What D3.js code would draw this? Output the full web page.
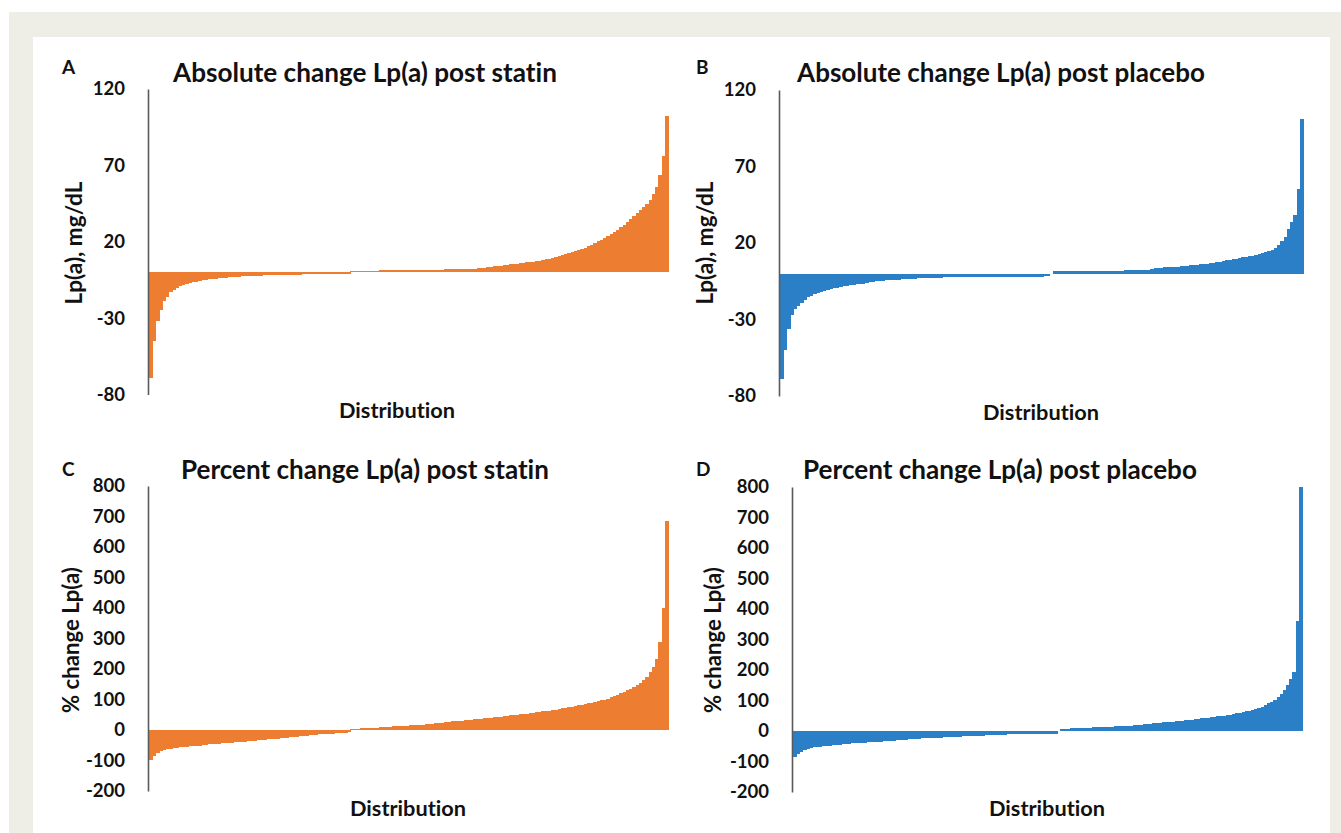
<!DOCTYPE html>
<html><head><meta charset="utf-8">
<script src="https://cdn.jsdelivr.net/npm/d3@7"></script>
<style>
html,body{margin:0;padding:0;background:#fff;}
svg{display:block;}
text{font-family:Lato,"Open Sans",sans-serif;font-weight:700;fill:#111;font-variant-ligatures:none;font-feature-settings:"liga" 0;}
</style></head>
<body>
<svg id="chart" width="1341" height="833"></svg>
<script>
// ---------------- DATA ----------------
const absTicks = [-80, -30, 20, 70, 120];
const pctTicks = [-200, -100, 0, 100, 200, 300, 400, 500, 600, 700, 800];

const titles = [
  "Absolute change Lp(a) post statin",
  "Absolute change Lp(a) post placebo",
  "Percent change Lp(a) post statin",
  "Percent change Lp(a) post placebo"
];
const panelLetters = ["A", "B", "C", "D"];
const yLabels = ["Lp(a), mg/dL", "Lp(a), mg/dL", "% change Lp(a)", "% change Lp(a)"];
const xLabel = "Distribution";

// Sorted individual changes (estimated from the figure)
const absStatin = [
  -69,-45,-32,-25,-19,-16,-13,-11.5,-10,-9,-8.2,-7.5,-7,-6.5,-6.1,-5.7,-5.3,-5,-4.7,-4.4,
  -4.2,-4,-3.8,-3.6,-3.4,-3.2,-3,-2.8,
  -2.5,-2.4,-2.4,-2.3,-2.2,-2.2,-2.1,-2,-2,-1.9,-1.9,-1.8,-1.7,
  -1.7,-1.6,-1.6,-1.5,-1.5,-1.5,-1.4,-1.4,-1.3,-1.3,-1.3,-1.2,-1.2,-1.2,-1.1,-1.1,-1.1,-1,-1,-1,-0.9,
  1,1,1,1.1,1.1,1.1,1.1,1.1,1.1,1.2,1.2,1.2,1.2,1.2,1.2,1.2,1.3,1.3,1.3,1.3,1.4,1.4,1.4,1.4,1.5,1.5,1.5,1.5,1.6,
  2,2,2.1,2.1,2.2,2.2,2.3,2.3,2.4,2.4,2.5,
  2.8,3.1,3.4,3.7,4,4.2,4.4,4.6,
  4.9,5.2,5.4,5.7,6,6.2,6.5,6.7,7,7.2,
  7.6,8,8.4,8.9,9.4,
  10,10.6,11.2,11.8,12.4,13,
  13.8,14.6,15.4,16.2,17,
  18,19.1,20.2,21.3,22.5,
  23.8,25.2,26.6,28,29.4,30.8,
  33,35,37,39,41,
  43,45,47.5,
  51,56,
  64,76,102
];
const absPlacebo = [
  -69,-50,-36,-27,-23,-21,-19,-17,-15.5,-14.5,-13.5,-12.5,-12,-11.3,-10.7,-10.2,-9.7,-9.2,-8.7,-8.3,
  -8,-7.7,-7.4,-7.1,-6.8,-6.5,-6.2,-5.8,-5.5,-5.1,
  -4.9,-4.7,-4.5,-4.4,-4.2,-4.1,-3.9,-3.8,-3.7,
  -3.5,-3.4,-3.3,-3.2,-3.1,-3,-2.9,-2.8,-2.7,
  -2.6,-2.6,-2.5,-2.5,-2.4,-2.4,-2.4,-2.3,-2.3,-2.3,-2.3,-2.2,-2.2,-2.2,
  -2.1,-2.1,-2,-2,-2,-2,-2,-2,-2,-2,-2,-2,-2,-1.9,-1.9,-1.9,-1.9,-1.9,-1.9,-1.8,-1.8,
  0,
  1.4,1.4,1.4,1.5,1.5,1.5,1.5,1.5,1.5,1.5,1.5,1.5,1.5,1.5,1.5,1.6,1.6,1.6,1.6,1.6,1.6,1.6,
  2.2,2.3,2.3,2.4,2.4,2.5,2.5,2.6,
  3.3,3.4,3.6,3.8,4,4.1,4.3,4.5,4.6,4.8,5,
  5.2,5.4,5.6,5.9,6.1,6.3,6.5,6.8,7,
  7.4,7.8,8.2,8.6,9,9.4,9.8,
  10.2,10.6,11,11.4,11.8,12.2,
  12.8,13.4,14,14.6,15.3,
  16.5,18.6,21,24,
  29,34,
  38,55,101
];
const pctStatin = [
  -98,-84,-74,-68,-65,-63,-61,-59.5,-58,
  -57,-56,-55,-54,-53,-52,-51,-50,-49,-47.5,
  -46.5,-45.5,-44.5,-43.5,-42.5,-41.5,-41,-40,-39.5,-38.5,-38,
  -37,-36,-35,-34,-33,-32,-31,-30,-29,-28,-27,
  -26,-25,-24,-23,-22,-21,-20,-19,-17.5,-16,
  -15.3,-14.6,-13.9,-13.2,-12.5,-11.8,-11,-10.3,-9.6,-8.8,-8,
  2,3,4,5,5.5,6,6.5,7.5,8,9,
  9.7,10.3,11,11.6,12.3,13,13.6,14.3,15,15.5,16,
  17,18,19,20,21,22,23,24.5,25.5,27,
  28,29,30,31,32,33,34,35,36,37,38,
  39.2,40.4,41.6,42.8,44,45.2,46.4,47.6,48.8,50,51,
  52.4,53.8,55.2,56.6,58,59.4,60.8,62.2,63.6,65,
  67,69,71,73,75,77,79,81,83,85,87,
  89.5,92,94.5,97,100,
  103,107,111,115,120,
  125,130,135,141,147,
  155,164,174,
  190,207,
  234,290,400,684
];
const pctPlacebo = [
  -85,-76,-68,-63,-59,
  -56,-54,-52.5,-51,-50,
  -49,-48,-47,-46,-45,-44,-42.5,-41,
  -40.5,-40,-39,-38.5,-38,-37,-36.5,-36,-35,-34.5,-34,
  -33,-32,-31.5,-30.5,-30,-29,-28,-27.5,-26.5,-26,-25,
  -24.5,-24,-23.5,-23,-22.5,-22,-21.5,-21,-20.5,-20,-19.5,
  -19,-18.5,-18,-17.5,-17,-16.5,-16,
  -15.5,-15,-14.5,-14,-13.5,-13,-12.5,-12,-11.5,-11,
  -10.8,-10.6,-10.4,-10.2,-10,-9.8,-9.6,-9.5,-9.4,-9.3,-9.2,-9.1,-9,-9,-9,
  0,
  7,7.5,8,8.5,9,9.5,10,10.3,10.6,11,
  11.5,12,12.5,13,13.5,14,14.5,15,15.5,16,16,
  17,18,19,20,21,22,23,24,25,26,27,
  28,29,30,31,32,33,34,35,36,37,38,
  39.5,41,42.5,44,45.5,47,48.5,49.5,50.5,51.5,
  53.5,55.5,57.5,59.5,62,64,
  67,70,73,76,79,
  85,91,96,102,
  112,122,135,
  150,170,
  195,360,800
];

// ---------------- LAYOUT ----------------
const ORANGE = "#ED7D31", BLUE = "#2A7FC6";
const panels = [
  {values: absStatin,  ticks: absTicks, color: ORANGE, axisX: 148, right: 668,  top: 89,  bottom: 394.5,
   letter: [62, 74], title: [365, 82, 384], ylab: [73, 243, 123], xlab: [397, 418, 116]},
  {values: absPlacebo, ticks: absTicks, color: BLUE,   axisX: 779, right: 1303, top: 90,  bottom: 396,
   letter: [696, 74], title: [1001, 82, 408], ylab: [704, 243, 123], xlab: [1041, 420, 116]},
  {values: pctStatin,  ticks: pctTicks, color: ORANGE, axisX: 148, right: 668,  top: 486, bottom: 791,
   letter: [62, 476], title: [365, 479, 368], ylab: [70, 640, 146], xlab: [408, 816, 116]},
  {values: pctPlacebo, ticks: pctTicks, color: BLUE,   axisX: 792, right: 1302, top: 487, bottom: 792,
   letter: [696, 476], title: [1000, 479, 394], ylab: [712, 640, 146], xlab: [1047, 816, 116]}
];

const svg = d3.select("#chart");
svg.append("rect").attr("x", 9).attr("y", 12).attr("width", 1332).attr("height", 821).attr("fill", "#EFEEE6");
svg.append("rect").attr("x", 33).attr("y", 37).attr("width", 1297).attr("height", 796).attr("fill", "#fff");

function fit(t, target, base) {
  t.style("font-size", base + "px");
  const w = t.node().getComputedTextLength();
  if (w > 0) t.style("font-size", (base * target / w).toFixed(2) + "px");
}

panels.forEach((p, k) => {
  const g = svg.append("g");
  const dom = [p.ticks[0], p.ticks[p.ticks.length - 1]];
  const y = d3.scaleLinear().domain(dom).range([p.bottom, p.top]);
  const x = d3.scaleBand().domain(d3.range(p.values.length)).range([p.axisX + 1, p.right]).paddingInner(0).paddingOuter(0);
  const bw = x.bandwidth();

  g.append("g").attr("shape-rendering", "crispEdges")
    .selectAll("rect").data(p.values).join("rect")
    .attr("x", (d, i) => x(i))
    .attr("width", bw + 0.8)
    .attr("y", d => y(Math.max(0, d)))
    .attr("height", d => Math.abs(y(d) - y(0)))
    .attr("fill", p.color);

  const axis = d3.axisLeft(y).tickValues(p.ticks).tickSize(0).tickSizeOuter(0).tickPadding(23).tickFormat(d => String(d));
  const ag = g.append("g").attr("transform", `translate(${p.axisX},0)`).call(axis);
  ag.select(".domain").attr("stroke", "#5a5a5a").attr("stroke-width", 1.6);
  ag.selectAll("text").attr("font-family", null).attr("font-size", null)
    .style("font-size", "18.5px").style("font-family", "Lato, 'Open Sans', sans-serif").style("font-weight", 700).attr("fill", "#111");

  g.append("text").attr("x", p.letter[0]).attr("y", p.letter[1]).style("font-size", "19px").text(panelLetters[k]);

  const tt = g.append("text").attr("x", p.title[0]).attr("y", p.title[1]).attr("text-anchor", "middle").text(titles[k]);
  fit(tt, p.title[2], 23);

  const yl = g.append("text").attr("transform", `translate(${p.ylab[0]},${p.ylab[1]}) rotate(-90)`)
    .attr("text-anchor", "middle").attr("dominant-baseline", "central").text(yLabels[k]);
  fit(yl, p.ylab[2], 17);

  const xl = g.append("text").attr("x", p.xlab[0]).attr("y", p.xlab[1]).attr("text-anchor", "middle").text(xLabel);
  fit(xl, p.xlab[2], 18);
});
</script>
</body></html>
